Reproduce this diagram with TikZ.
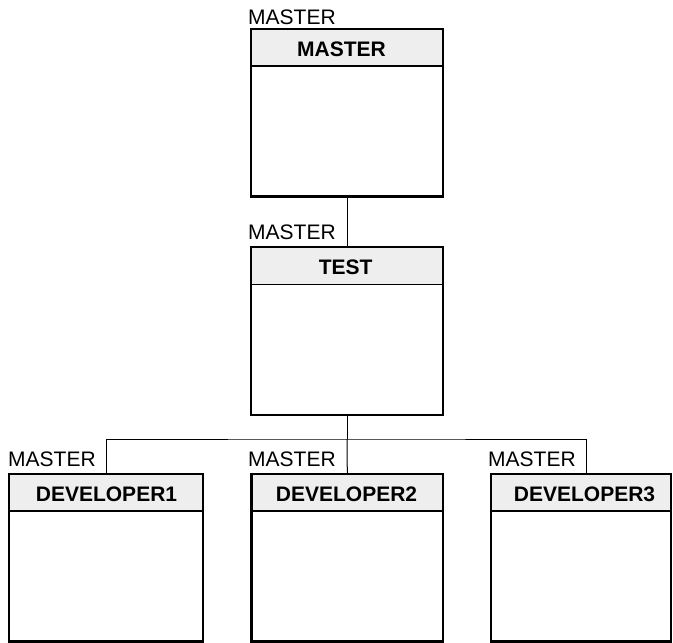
\documentclass[tikz,border=0pt]{standalone}
\usepackage{fontspec}
\setmainfont{Liberation Sans}
\definecolor{hdrgray}{HTML}{EEEEEE}
\begin{document}
\begin{tikzpicture}[x=1pt,y=-1pt,
  cls/.style={draw, line width=2.4pt, minimum height=167.5pt, inner sep=0pt, fill=white,
    path picture={
      \fill[hdrgray] (path picture bounding box.north west) rectangle ([yshift=-37pt]path picture bounding box.north east);
      \draw[line width=1.3pt] ([yshift=-37pt]path picture bounding box.north west) -- ([yshift=-37pt]path picture bounding box.north east);
    }},
  wide/.style={cls, minimum width=192pt},
  title/.style={font=\bfseries\fontsize{21}{21}\selectfont, inner sep=0pt, anchor=base},
  lbl/.style={font=\fontsize{21}{21}\selectfont, inner sep=0pt, anchor=base west},
  wire/.style={line width=1pt}]
\useasboundingbox (0,0) rectangle (673,643);
% boxes
\node[wide] (m) at (347,112.75) {};
\node[wide] (t) at (347,331) {};
\node[cls, minimum width=193.5pt] (d1) at (106,557.75) {};
\node[cls, minimum width=191.5pt] (d2) at (347.3,557.75) {};
\node[cls, minimum width=180pt] (d3) at (581,557.75) {};
% titles
\node[title] (mt) at (341.5,56) {MASTER};
\node[title] (tt) at (345.7,274) {TEST};
\node[title] (d1t) at (106.5,501) {DEVELOPER1};
\node[title] (d2t) at (346.5,501) {DEVELOPER2};
\node[title] (d3t) at (584.5,501) {DEVELOPER3};
% labels
\node[lbl] (ml) at (248,24) {MASTER};
\node[lbl] (tl) at (248,239) {MASTER};
\node[lbl] (d1l) at (8,466) {MASTER};
\node[lbl] (d2l) at (248,466) {MASTER};
\node[lbl] (d3l) at (488,466) {MASTER};
% connectors
\coordinate (bus) at (347,439);
\coordinate (d3top) at ([xshift=5.5pt]d3.north);
\draw[wire] (m.south) -- (t.north);
\draw[wire] (t.south) -- (bus);
\draw[wire] (d1.north) |- (bus) -| (d3top);
\draw[wire] (bus) -- (d2.north);
\end{tikzpicture}
\end{document}
